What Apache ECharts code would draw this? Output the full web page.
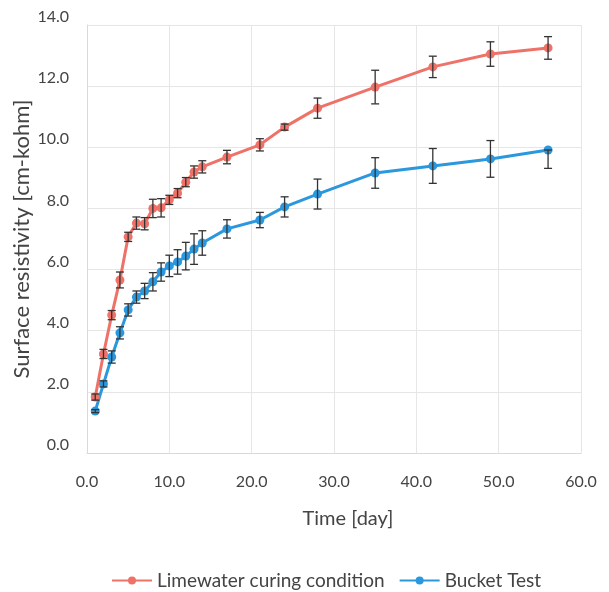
<!DOCTYPE html>
<html>
<head>
<meta charset="utf-8">
<script src="https://cdn.jsdelivr.net/npm/echarts@6/dist/echarts.min.js"></script>
<style>
  html, body { margin: 0; padding: 0; background: #fff; }
  #chart { width: 609px; height: 592px; }
</style>
</head>
<body>
<div id="chart"></div>
<script>
// days of measurement
const days = [1, 2, 3, 4, 5, 6, 7, 8, 9, 10, 11, 12, 13, 14, 17, 21, 24, 28, 35, 42, 49, 56]

// Limewater curing condition
const limeValues = [1.83, 3.24, 4.51, 5.66, 7.07, 7.52, 7.50, 8.0, 8.02, 8.28, 8.5, 8.86, 9.19, 9.36, 9.68, 10.08, 10.66, 11.28, 11.97, 12.63, 13.05, 13.25]
const limeErr = [0.1, 0.15, 0.15, 0.26, 0.15, 0.2, 0.2, 0.3, 0.3, 0.15, 0.15, 0.15, 0.2, 0.2, 0.22, 0.2, 0.1, 0.33, 0.55, 0.35, 0.4, 0.37]

// Bucket Test
const bucketValues = [1.37, 2.26, 3.14, 3.93, 4.68, 5.1, 5.3, 5.6, 5.92, 6.12, 6.25, 6.44, 6.67, 6.87, 7.33, 7.62, 8.05, 8.47, 9.16, 9.39, 9.62, 9.91]
const bucketErrLow = [0.05, 0.1, 0.2, 0.2, 0.2, 0.2, 0.25, 0.3, 0.3, 0.35, 0.4, 0.45, 0.5, 0.4, 0.3, 0.25, 0.33, 0.49, 0.5, 0.57, 0.6, 0.6]
const bucketErrHigh = [0.05, 0.1, 0.2, 0.2, 0.2, 0.2, 0.25, 0.3, 0.3, 0.35, 0.4, 0.45, 0.5, 0.4, 0.3, 0.25, 0.33, 0.49, 0.5, 0.57, 0.6, 0]

const limeColor = '#ee7268'
const bucketColor = '#2b98de'
const fontFamily = 'Lato, "Open Sans", sans-serif'

function toPairs(xs, ys) {
  return xs.map((x, i) => [x, ys[i]])
}

function errData(xs, ys, lo, hi) {
  return xs.map((x, i) => [x, ys[i] - lo[i], ys[i] + hi[i]])
}

function renderErr(params, api) {
  const x = api.value(0)
  const low = api.coord([x, api.value(1)])
  const high = api.coord([x, api.value(2)])
  const half = 4
  const style = { stroke: '#333', lineWidth: 1.3 }
  const children = [
    { type: 'line', shape: { x1: low[0], y1: low[1], x2: high[0], y2: high[1] }, style: style },
    { type: 'line', shape: { x1: low[0] - half, y1: low[1], x2: low[0] + half, y2: low[1] }, style: style }
  ]
  // the last Bucket Test point has no upper whisker
  if (Math.abs(high[1] - low[1]) > 0 && api.value(2) > api.value(1)) {
    children.push({ type: 'line', shape: { x1: high[0] - half, y1: high[1], x2: high[0] + half, y2: high[1] }, style: style })
  }
  return { type: 'group', children: children }
}

const myChart = echarts.init(document.getElementById('chart'))

const option = {
  animation: false,
  textStyle: { fontFamily: fontFamily },
  grid: {
    left: 87,
    right: 28,
    top: 25,
    bottom: 139,
    outerBoundsMode: 'none'
  },
  legend: {
    top: 566,
    left: 106,
    itemWidth: 40,
    itemHeight: 10,
    itemGap: 14,
    data: ['Limewater curing condition', 'Bucket Test'],
    textStyle: { fontSize: 19, color: '#444', fontFamily: fontFamily }
  },
  xAxis: {
    type: 'value',
    min: 0,
    max: 60,
    interval: 10,
    name: 'Time [day]',
    nameLocation: 'middle',
    nameGap: 56,
    nameMoveOverlap: false,
    nameTextStyle: { fontSize: 20, color: '#444', padding: [0, 0, 0, 28] },
    axisLine: { show: true, lineStyle: { color: '#d9d9d9' } },
    axisTick: { show: false },
    axisLabel: {
      margin: 21,
      fontSize: 16,
      color: '#444',
      formatter: v => v.toFixed(1)
    },
    splitLine: { show: true, lineStyle: { color: '#e6e6e6' } }
  },
  yAxis: {
    type: 'value',
    min: 0,
    max: 14,
    interval: 2,
    name: 'Surface resistivity [cm-kohm]',
    nameLocation: 'middle',
    nameGap: 54,
    nameMoveOverlap: false,
    nameTextStyle: { fontSize: 22, color: '#444' },
    axisLine: { show: true, lineStyle: { color: '#d9d9d9' } },
    axisTick: { show: false },
    axisLabel: {
      margin: 18,
      fontSize: 16,
      color: '#444',
      verticalAlign: 'bottom',
      formatter: v => v.toFixed(1)
    },
    splitLine: { show: true, lineStyle: { color: '#e6e6e6' } }
  },
  series: [
    {
      name: 'Limewater curing condition',
      type: 'line',
      data: toPairs(days, limeValues),
      symbol: 'circle',
      symbolSize: 9,
      itemStyle: { color: limeColor },
      lineStyle: { color: limeColor, width: 3 },
      z: 3
    },
    {
      name: 'Bucket Test',
      type: 'line',
      data: toPairs(days, bucketValues),
      symbol: 'circle',
      symbolSize: 9,
      itemStyle: { color: bucketColor },
      lineStyle: { color: bucketColor, width: 3 },
      z: 3
    },
    {
      type: 'custom',
      name: 'limeErr',
      renderItem: renderErr,
      data: errData(days, limeValues, limeErr, limeErr),
      encode: { x: 0, y: [1, 2] },
      z: 5,
      silent: true
    },
    {
      type: 'custom',
      name: 'bucketErr',
      renderItem: renderErr,
      data: errData(days, bucketValues, bucketErrLow, bucketErrHigh),
      encode: { x: 0, y: [1, 2] },
      z: 5,
      silent: true
    }
  ]
}

myChart.setOption(option)
</script>
</body>
</html>
